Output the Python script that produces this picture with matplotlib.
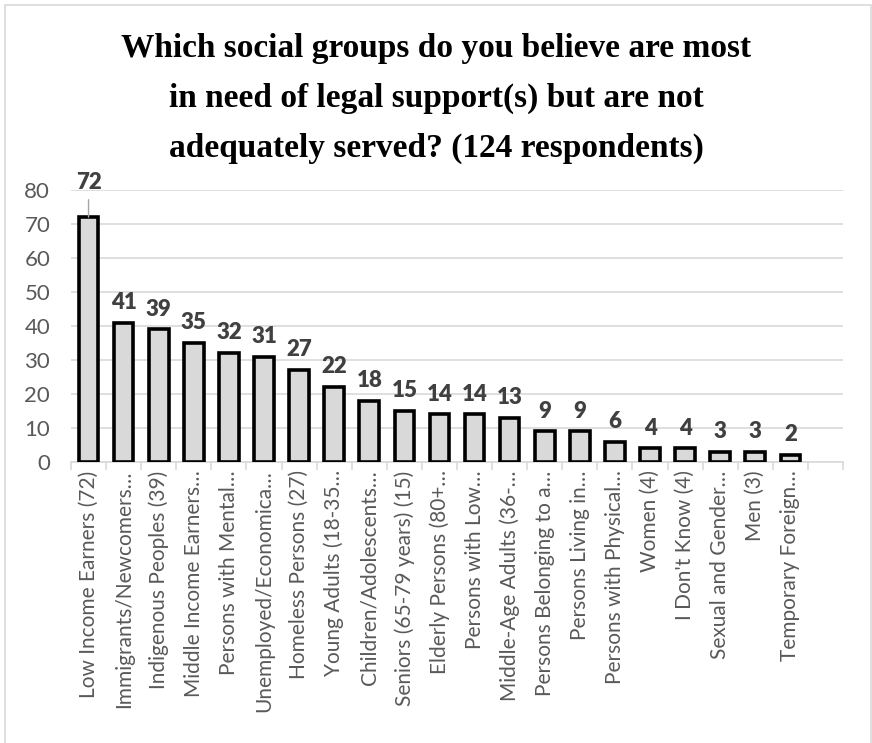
import matplotlib
matplotlib.use("Agg")
import matplotlib.pyplot as plt
from matplotlib.patches import Rectangle

categories = [
    "Low Income Earners (72)", "Immigrants/Newcomers\u2026", "Indigenous Peoples (39)",
    "Middle Income Earners\u2026", "Persons with Mental\u2026", "Unemployed/Economica\u2026",
    "Homeless Persons (27)", "Young Adults (18-35\u2026", "Children/Adolescents\u2026",
    "Seniors (65-79 years) (15)", "Elderly Persons (80+\u2026", "Persons with Low\u2026",
    "Middle-Age Adults (36-\u2026", "Persons Belonging to a\u2026", "Persons Living in\u2026",
    "Persons with Physical\u2026", "Women (4)", "I Don't Know (4)", "Sexual and Gender\u2026",
    "Men (3)", "Temporary Foreign\u2026", "", "",
]
values = [72, 41, 39, 35, 32, 31, 27, 22, 18, 15, 14, 14, 13, 9, 9, 6, 4, 4, 3, 3, 2]
yticks = [0, 10, 20, 30, 40, 50, 60, 70, 80]
title = ("Which social groups do you believe are most\n"
         "in need of legal support(s) but are not\n"
         "adequately served? (124 respondents)")

W, H = 872, 743
fig = plt.figure(figsize=(W / 100, H / 100), dpi=100)

# outer chart border
fig.patches.append(Rectangle((5 / W, -0.02), (871 - 5) / W, 1.02 - 5 / H, transform=fig.transFigure,
                             fill=False, edgecolor="#D9D9D9", linewidth=1.2))

n_slots = 22
ax = fig.add_axes([71 / W, 1 - 462 / H, (843 - 71) / W, (462 - 190) / H])
x = list(range(len(values)))
ax.bar(x, values, width=0.56, color="#D9D9D9", edgecolor="black", linewidth=2.6, zorder=3)
ax.set_xlim(-0.5, n_slots - 0.5)
ax.set_ylim(0, 80)
ax.set_yticks(yticks)
ax.set_yticklabels([str(v) for v in yticks], fontsize=16, color="#595959", family="Lato")
ax.grid(axis="y", color="#D9D9D9", linewidth=1.2, zorder=0)
for s in ["top", "right", "left"]:
    ax.spines[s].set_visible(False)
ax.spines["bottom"].set_color("#D9D9D9")
ax.spines["bottom"].set_linewidth(1.2)
ax.tick_params(axis="y", length=0, pad=15)

# category labels
ax.set_xticks(range(n_slots))
ax.set_xticklabels(categories[:n_slots], rotation=90, fontsize=15, color="#595959",
                   family="Lato", va="top", ha="center")
ax.tick_params(axis="x", length=0, pad=6)
# boundary ticks
ax.set_xticks([i - 0.5 for i in range(n_slots + 1)], minor=True)
ax.tick_params(axis="x", which="minor", length=6, color="#D9D9D9", width=1.2)

# data labels
for xi, v in zip(x, values):
    if v > 65:
        ax.annotate(str(v), xy=(xi, v), xytext=(xi, 79.2), ha="center", va="bottom",
                    fontsize=16, fontweight="heavy", color="#404040", family="Lato",
                    annotation_clip=False,
                    arrowprops=dict(arrowstyle="-", color="#A6A6A6", lw=1, shrinkA=3, shrinkB=0))
    else:
        ax.annotate(str(v), xy=(xi, v), xytext=(0, 7), textcoords="offset points",
                    ha="center", va="bottom", fontsize=16,
                    fontweight="heavy", color="#404040", family="Lato")

fig.text(0.5, 1 - 33 / H, title, ha="center", va="top",
         fontsize=24, fontweight="bold", family="Liberation Serif", linespacing=1.78,
         color="black")

fig.savefig("out.png", dpi=100)
